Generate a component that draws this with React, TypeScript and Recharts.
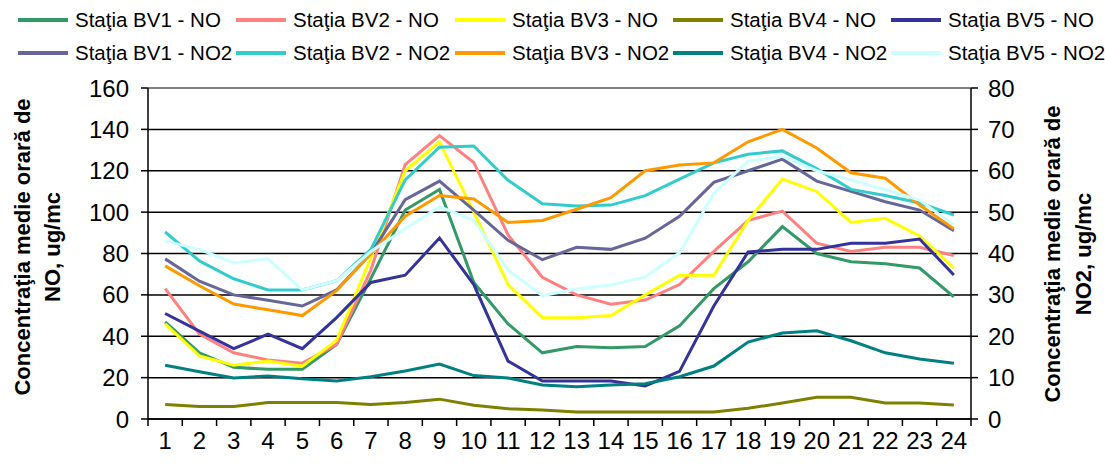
import React from "react";
import { LineChart, Line, XAxis, YAxis, CartesianGrid, ReferenceLine } from "recharts";

const hours = [1, 2, 3, 4, 5, 6, 7, 8, 9, 10, 11, 12, 13, 14, 15, 16, 17, 18, 19, 20, 21, 22, 23, 24];

// NO series (left axis, ug/mc)
const bv1NO = [47, 32, 25, 24, 24, 36, 68, 101, 111, 66, 46, 32, 35, 34.5, 35, 45, 63, 76, 93, 80, 76, 75, 73, 59];
const bv2NO = [63, 41, 32, 28.5, 27, 36, 72, 123, 137, 124, 89, 68.5, 60, 55.5, 57.5, 65, 81, 96, 100.5, 85, 81, 83, 83, 79];
const bv3NO = [46, 30.5, 26, 28, 25.5, 38, 78, 120, 134, 100, 65, 49, 49, 50, 60, 69.5, 69.5, 96, 116, 110, 95, 97, 88.5, 73];
const bv4NO = [7, 6, 6, 8, 8, 8, 7, 8, 9.6, 6.6, 5, 4.3, 3.4, 3.4, 3.4, 3.4, 3.4, 5.2, 7.7, 10.5, 10.5, 7.7, 7.7, 6.8];
const bv5NO = [51, 42.5, 34, 41, 34, 49, 66, 69.5, 87.5, 65, 28, 18.4, 18.4, 18.4, 16, 23, 54.6, 80.7, 82, 82, 85, 85, 87, 69.6];

// NO2 series (right axis, ug/mc)
const bv1NO2 = [38.7, 33.3, 30, 28.7, 27.3, 31.2, 40, 53, 57.5, 50.5, 43.2, 38.5, 41.5, 41, 43.7, 49, 57.2, 60, 62.8, 57.5, 55, 52.5, 50.5, 45.5];
const bv2NO2 = [45.2, 38.2, 33.9, 31.2, 31.2, 33.4, 41, 57.8, 65.7, 66, 57.7, 52, 51.5, 51.7, 54, 58, 61.9, 64, 64.8, 60.5, 55.5, 54, 52.2, 49.3];
const bv3NO2 = [37, 32.2, 27.8, 26.4, 25, 31, 40, 49, 54, 53.2, 47.5, 48, 50.7, 53.5, 60, 61.4, 61.9, 67, 70, 65.5, 59.5, 58.2, 51.7, 46];
const bv4NO2 = [13, 11.4, 9.9, 10.4, 9.7, 9.2, 10.2, 11.6, 13.3, 10.5, 9.9, 8.2, 7.8, 8.2, 8.5, 10.2, 12.8, 18.6, 20.8, 21.3, 18.9, 16, 14.5, 13.5];
const bv5NO2 = [43, 41, 37.7, 38.7, 31.2, 33.4, 40.5, 46, 51.3, 48, 36, 29.8, 31.4, 32.4, 34.3, 40.2, 54.5, 62.3, 63.5, 60, 57.8, 55.4, 52.9, 46.9];

const leftTicks = [0, 20, 40, 60, 80, 100, 120, 140, 160];
const rightTicks = [0, 10, 20, 30, 40, 50, 60, 70, 80];
const xTicks = hours.flatMap((h) => [h - 0.5, h]).concat([hours[hours.length - 1] + 0.5]);

const leftTitle = ["Concentraţia medie orară de", "NO, ug/mc"];
const rightTitle = ["Concentraţia medie orară de", "NO2, ug/mc"];

const series = [
  { key: "bv1NO", name: "Staţia BV1 - NO", color: "#339966", axis: "left", values: bv1NO },
  { key: "bv2NO", name: "Staţia BV2 - NO", color: "#FF8080", axis: "left", values: bv2NO },
  { key: "bv3NO", name: "Staţia BV3 - NO", color: "#FFFF00", axis: "left", values: bv3NO },
  { key: "bv4NO", name: "Staţia BV4 - NO", color: "#808000", axis: "left", values: bv4NO },
  { key: "bv5NO", name: "Staţia BV5 - NO", color: "#333399", axis: "left", values: bv5NO },
  { key: "bv1NO2", name: "Staţia BV1 - NO2", color: "#666699", axis: "right", values: bv1NO2 },
  { key: "bv2NO2", name: "Staţia BV2 - NO2", color: "#33CCCC", axis: "right", values: bv2NO2 },
  { key: "bv3NO2", name: "Staţia BV3 - NO2", color: "#FF9900", axis: "right", values: bv3NO2 },
  { key: "bv4NO2", name: "Staţia BV4 - NO2", color: "#008080", axis: "right", values: bv4NO2 },
  { key: "bv5NO2", name: "Staţia BV5 - NO2", color: "#CCFFFF", axis: "right", values: bv5NO2 },
];

const data = hours.map((h, i) => {
  const row: Record<string, number> = { hour: h };
  series.forEach((s) => {
    row[s.key] = s.values[i];
  });
  return row;
});

const FONT = "'Liberation Sans', Arial, sans-serif";

const XTick = (props: any) => {
  const { x, y, payload } = props;
  const v = payload.value as number;
  if (Number.isInteger(v)) {
    return (
      <text x={x} y={y + 21} textAnchor="middle" dominantBaseline="central" fontSize={24} fill="#000" fontFamily={FONT}>
        {v}
      </text>
    );
  }
  return <line x1={x} x2={x} y1={y} y2={y + 7} stroke="#000" strokeWidth={1.5} />;
};

const LeftTitle = () => (
  <g>
    {leftTitle.map((t, i) => {
      const x = 22 + i * 30;
      const y = 247;
      return (
        <text key={i} x={x} y={y} transform={`rotate(-90, ${x}, ${y})`} textAnchor="middle" dominantBaseline="central" fontSize={22} fontWeight="bold" fill="#000" fontFamily={FONT}>
          {t}
        </text>
      );
    })}
  </g>
);

const RightTitle = () => (
  <g>
    {rightTitle.map((t, i) => {
      const x = 1052 + i * 31;
      const y = 254;
      return (
        <text key={i} x={x} y={y} transform={`rotate(-90, ${x}, ${y})`} textAnchor="middle" dominantBaseline="central" fontSize={22} fontWeight="bold" fill="#000" fontFamily={FONT}>
          {t}
        </text>
      );
    })}
  </g>
);

const legendCols = [18, 236, 455, 673, 891];
const legendRows = [20, 53];

export default function App() {
  return (
    <div style={{ position: "absolute", left: 0, top: 0, width: 1105, height: 468, fontFamily: FONT, background: "#fff" }}>
      <LineChart width={1105} height={468} data={data} margin={{ top: 88, right: 74, bottom: 19, left: 88 }}>
        <CartesianGrid yAxisId="left" horizontal vertical={false} stroke="#000" strokeWidth={1.5} />
        <XAxis
          dataKey="hour"
          type="number"
          domain={[0.5, 24.5]}
          ticks={xTicks}
          interval={0}
          tick={XTick}
          tickLine={false}
          tickSize={0}
          tickMargin={0}
          height={30}
          axisLine={{ stroke: "#000", strokeWidth: 1.5 }}
        />
        <YAxis
          yAxisId="left"
          domain={[0, 160]}
          ticks={leftTicks}
          interval={0}
          width={60}
          tickSize={7}
          tickMargin={12}
          tick={{ fill: "#000", fontSize: 24, fontFamily: FONT }}
          axisLine={{ stroke: "#000", strokeWidth: 1.5 }}
          tickLine={{ stroke: "#000", strokeWidth: 1.5 }}
          label={<LeftTitle />}
        />
        <YAxis
          yAxisId="right"
          orientation="right"
          domain={[0, 80]}
          ticks={rightTicks}
          interval={0}
          width={60}
          tickSize={7}
          tickMargin={10}
          tick={{ fill: "#000", fontSize: 24, fontFamily: FONT }}
          axisLine={{ stroke: "#000", strokeWidth: 1.5 }}
          tickLine={{ stroke: "#000", strokeWidth: 1.5 }}
          label={<RightTitle />}
        />
        <ReferenceLine yAxisId="left" y={160} stroke="#808080" strokeWidth={2} />
        {series.map((s) => (
          <Line
            key={s.key}
            yAxisId={s.axis}
            dataKey={s.key}
            name={s.name}
            type="linear"
            stroke={s.color}
            strokeWidth={3}
            dot={false}
            activeDot={false}
            isAnimationActive={false}
          />
        ))}
      </LineChart>
      {series.map((s, i) => {
        const col = legendCols[i % 5];
        const row = legendRows[Math.floor(i / 5)];
        return (
          <React.Fragment key={s.key}>
            <div style={{ position: "absolute", left: col, top: row - 2, width: 50, height: 4, background: s.color }} />
            <div
              style={{
                position: "absolute",
                left: col + 57,
                top: row - 12,
                height: 24,
                lineHeight: "24px",
                fontSize: 20.5,
                color: "#000",
                whiteSpace: "nowrap",
              }}
            >
              {s.name}
            </div>
          </React.Fragment>
        );
      })}
    </div>
  );
}
